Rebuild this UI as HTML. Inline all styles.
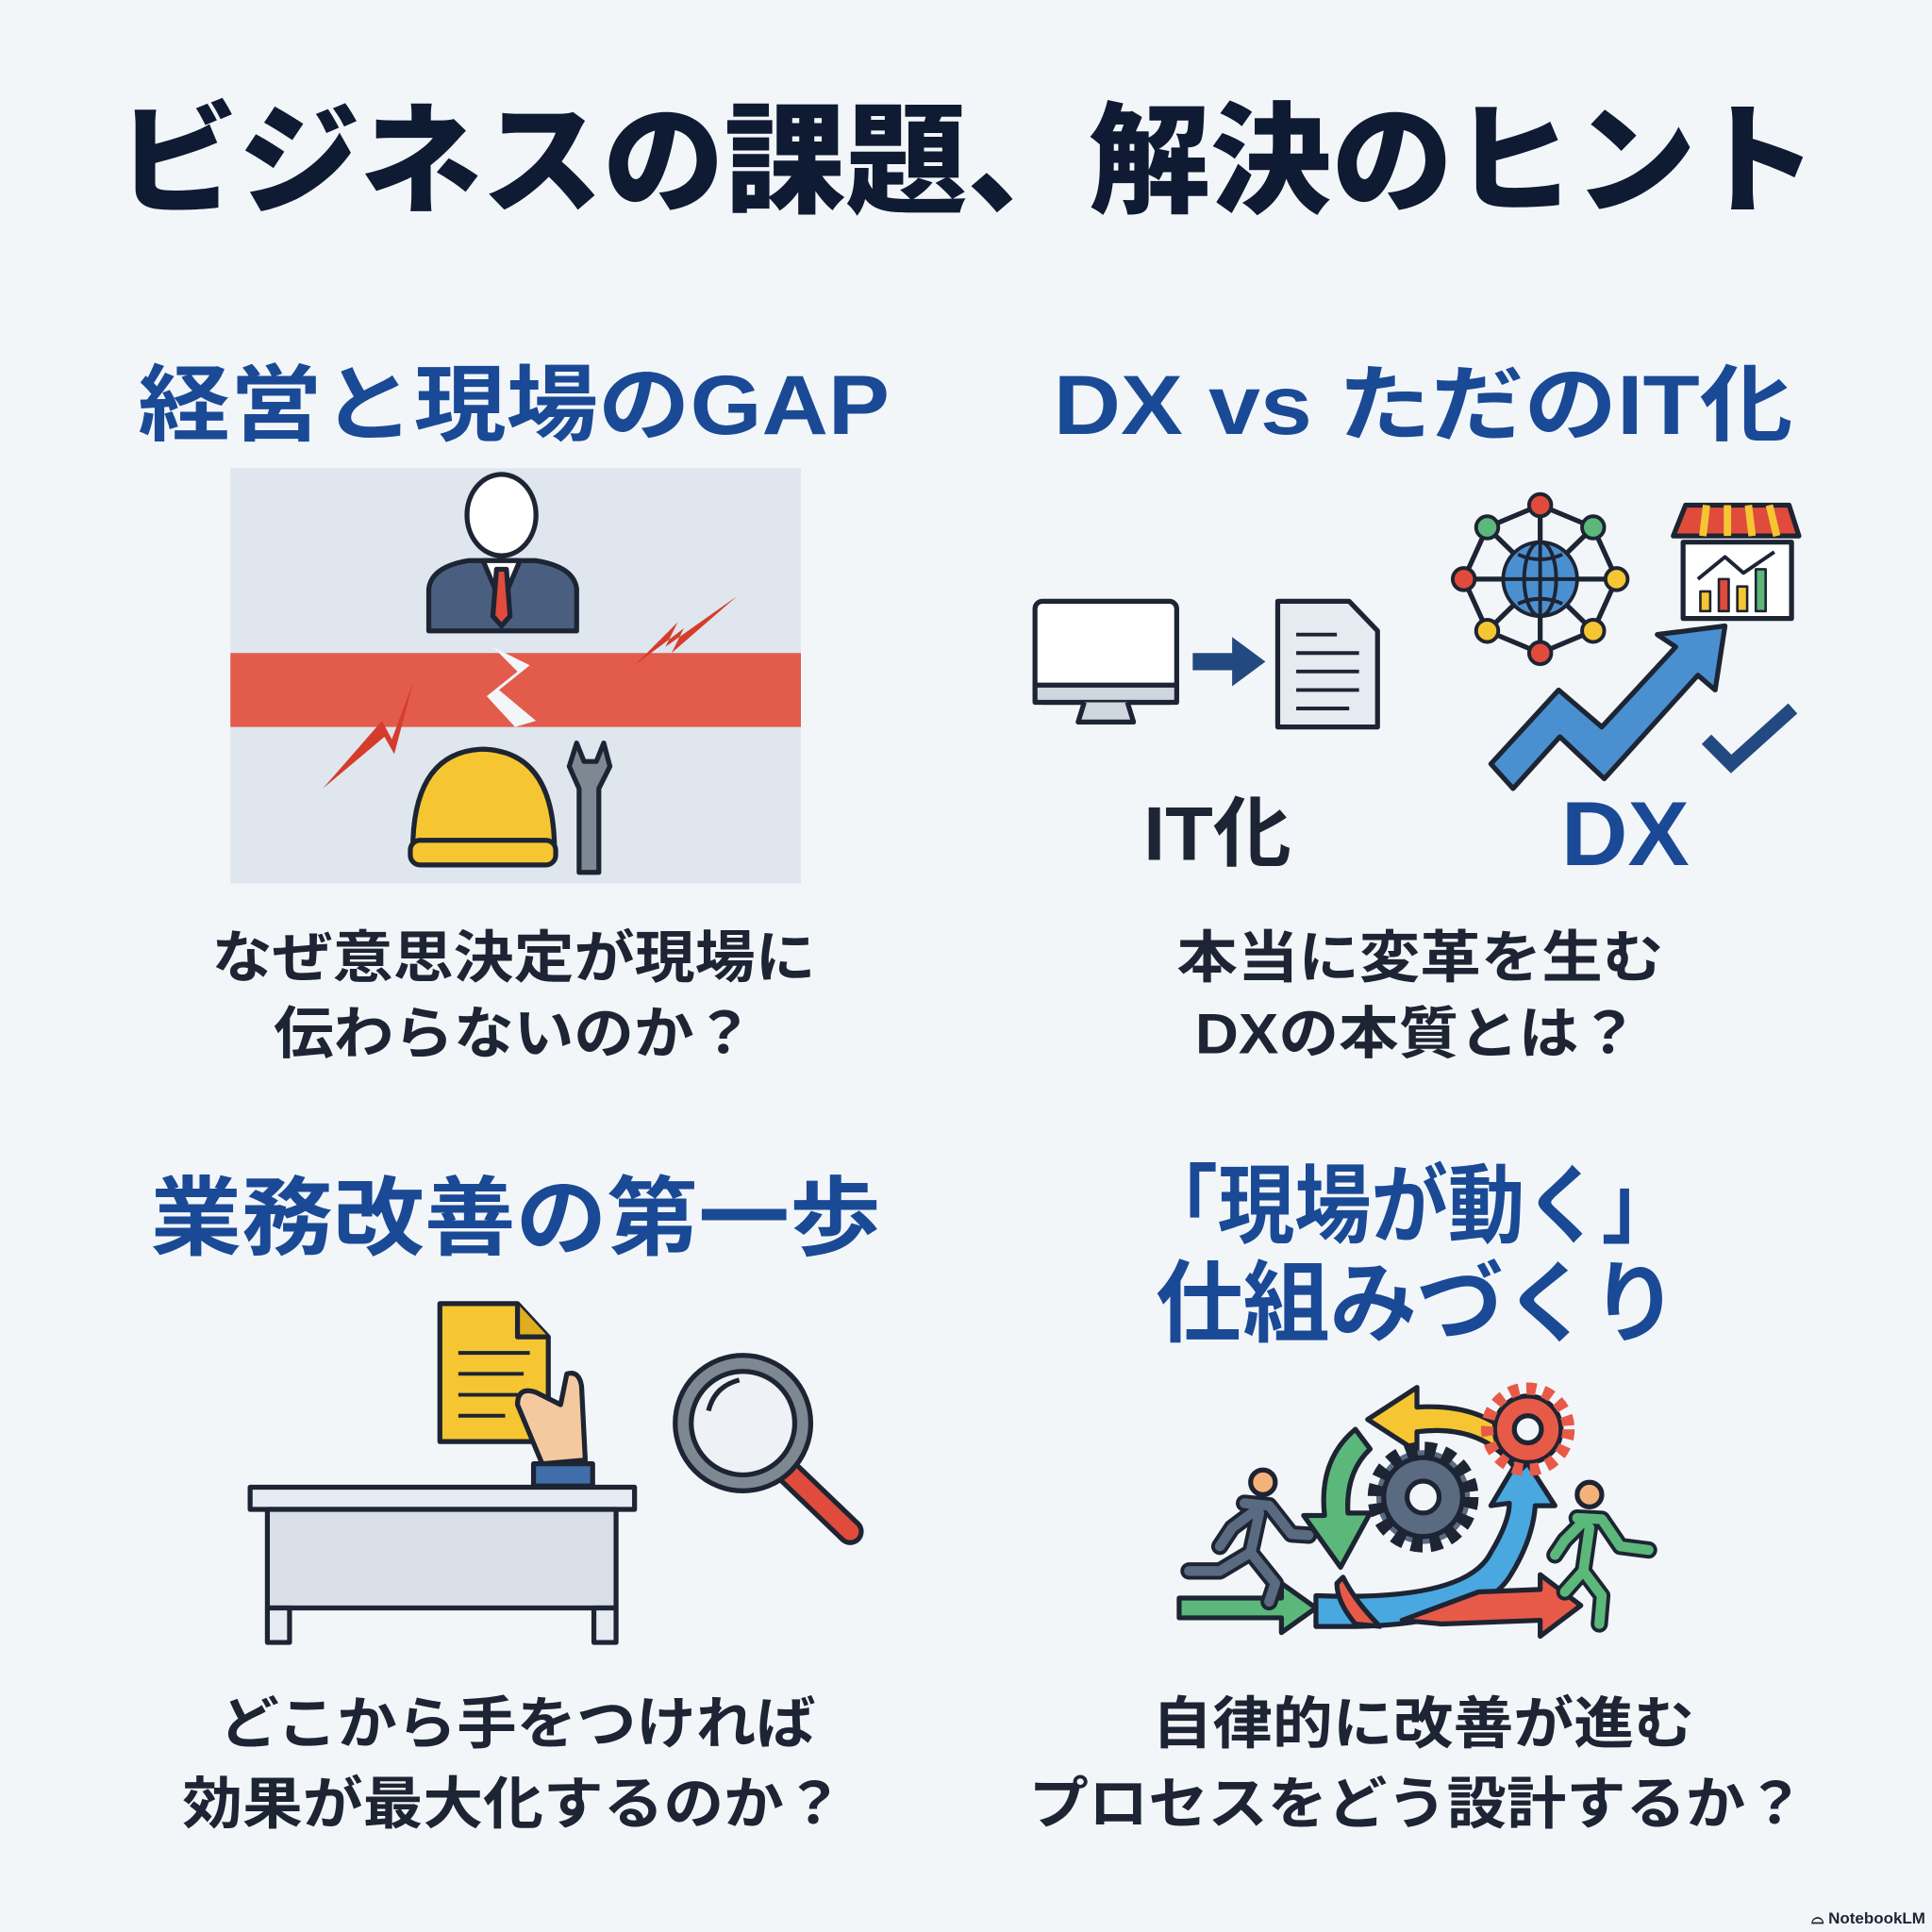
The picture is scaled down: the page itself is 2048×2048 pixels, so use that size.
<!DOCTYPE html>
<html><head><meta charset="utf-8"><style>
html,body{margin:0;padding:0;background:#f3f6f9;width:2048px;height:2048px;overflow:hidden}
svg{display:block}
text{font-family:"Liberation Sans","Noto Sans CJK JP",sans-serif;font-weight:700}
</style></head><body>
<svg width="2048" height="2048" viewBox="0 0 1568 1568" xmlns="http://www.w3.org/2000/svg">
<rect width="1568" height="1568" fill="#f3f6f9"/>
<!-- Title -->
<text x="95" y="165" font-size="98" fill="#0f1b33" textLength="1380" lengthAdjust="spacingAndGlyphs" style="font-weight:900">ビジネスの課題、解決のヒント</text>
<!-- Headings -->
<g fill="#1a4a96" style="font-weight:900">
<text x="112" y="352" font-size="68" textLength="610" lengthAdjust="spacingAndGlyphs">経営と現場のGAP</text>
<text x="855" y="352" font-size="68" textLength="600" lengthAdjust="spacingAndGlyphs">DX vs ただのIT化</text>
<text x="122" y="1013" font-size="70" textLength="593" lengthAdjust="spacingAndGlyphs">業務改善の第一歩</text>
<text x="926" y="1003" font-size="70" textLength="436" lengthAdjust="spacingAndGlyphs">「現場が動く」</text>
<text x="938" y="1083" font-size="72" textLength="424" lengthAdjust="spacingAndGlyphs">仕組みづくり</text>
</g>
<!-- Questions -->
<g fill="#1d2433" font-size="46">
<text x="172" y="793" textLength="490" lengthAdjust="spacingAndGlyphs">なぜ意思決定が現場に</text>
<text x="222" y="855" textLength="390" lengthAdjust="spacingAndGlyphs">伝わらないのか？</text>
<text x="955" y="793" textLength="395" lengthAdjust="spacingAndGlyphs">本当に変革を生む</text>
<text x="970" y="855" textLength="360" lengthAdjust="spacingAndGlyphs">DXの本質とは？</text>
<text x="178" y="1415" textLength="484" lengthAdjust="spacingAndGlyphs">どこから手をつければ</text>
<text x="148" y="1480" textLength="537" lengthAdjust="spacingAndGlyphs">効果が最大化するのか？</text>
<text x="935" y="1415" textLength="440" lengthAdjust="spacingAndGlyphs">自律的に改善が進む</text>
<text x="835" y="1480" textLength="630" lengthAdjust="spacingAndGlyphs">プロセスをどう設計するか？</text>
</g>

<!-- Panel 1 -->
<rect x="187" y="380" width="463" height="337" fill="#dfe6ee"/>
<rect x="187" y="530" width="463" height="60" fill="#e25b4b"/>
<g stroke="#1d2433" stroke-width="4" stroke-linejoin="round">
<path d="M348 512 L348 478 Q350 460 380 455 L435 455 Q466 460 468 478 L468 512 Z" fill="#4a5f80"/>
<path d="M392 455 L407 490 L422 455 Z" fill="#fff"/>
<path d="M403 462 L411 462 L414 500 L407 508 L400 500 Z" fill="#e04b3b"/>
<ellipse cx="407" cy="418" rx="28" ry="33" fill="#fff"/>
<path d="M335 690 Q335 610 392 608 Q450 610 450 690 Z" fill="#f5c631"/>
<rect x="333" y="682" width="118" height="20" rx="8" fill="#f5c631"/>
<path d="M468 603 L462 622 L470 640 L470 708 L486 708 L486 640 L495 622 L490 603 L484 618 L474 618 Z" fill="#7e8893"/>
</g>
<path d="M400 525 L430 540 L405 560 L435 585 L418 590 L395 565 L420 545 Z" fill="#f3f6f9"/>
<path d="M515 540 L550 505 L540 525 L598 484 L545 530 L555 510 Z" fill="#d63c2c"/>
<path d="M262 640 L310 585 L318 600 L335 555 L320 612 L312 598 Z" fill="#d63c2c"/>

<!-- Panel 2 -->
<g stroke="#1d2433" stroke-width="4" stroke-linejoin="round">
<rect x="840" y="488" width="115" height="82" rx="6" fill="#fff"/>
<rect x="840" y="556" width="115" height="14" fill="#cfd6de"/>
<path d="M880 570 L875 586 L920 586 L915 570" fill="#cfd6de"/>
<path d="M1037 488 L1095 488 L1118 512 L1118 590 L1037 590 Z" fill="#e6ebf1"/>
<g stroke-width="3"><line x1="1052" y1="515" x2="1085" y2="515"/><line x1="1052" y1="530" x2="1103" y2="530"/><line x1="1052" y1="545" x2="1103" y2="545"/><line x1="1052" y1="560" x2="1103" y2="560"/><line x1="1052" y1="575" x2="1095" y2="575"/></g>
</g>
<path d="M968 530 L1000 530 L1000 517 L1027 537 L1000 557 L1000 544 L968 544 Z" fill="#234a80"/>
<g stroke="#1d2433" stroke-width="3">
<g stroke-width="4" fill="none">
<polygon points="1250,410 1293,428 1312,470 1293,512 1250,530 1207,512 1188,470 1207,428"/>
<line x1="1250" y1="410" x2="1250" y2="530"/><line x1="1188" y1="470" x2="1312" y2="470"/>
<line x1="1207" y1="428" x2="1293" y2="512"/><line x1="1293" y1="428" x2="1207" y2="512"/>
</g>
<circle cx="1250" cy="470" r="30" fill="#4a90d0"/>
<path d="M1220 470 H1280 M1250 440 V500 M1232 450 Q1250 458 1268 450 M1232 490 Q1250 482 1268 490" fill="none"/>
<ellipse cx="1250" cy="470" rx="13" ry="30" fill="none"/>
<circle cx="1250" cy="410" r="9" fill="#e04b3b"/><circle cx="1293" cy="428" r="9" fill="#5cb87a"/>
<circle cx="1312" cy="470" r="9" fill="#f5c631"/><circle cx="1293" cy="512" r="9" fill="#f5c631"/>
<circle cx="1250" cy="530" r="9" fill="#e04b3b"/><circle cx="1207" cy="512" r="9" fill="#f5c631"/>
<circle cx="1188" cy="470" r="9" fill="#e04b3b"/><circle cx="1207" cy="428" r="9" fill="#5cb87a"/>
</g>
<g stroke="#1d2433" stroke-width="4" stroke-linejoin="round">
<rect x="1366" y="440" width="88" height="62" fill="#fff"/>
<path d="M1368 410 L1452 410 L1460 435 L1358 435 Z" fill="#e04b3b"/>
<path d="M1385 410 L1382 435 M1402 410 L1402 435 M1419 410 L1422 435 M1436 410 L1442 435" stroke="#f5c631" stroke-width="6"/>
<rect x="1380" y="480" width="8" height="16" fill="#f5c631" stroke-width="2"/>
<rect x="1395" y="470" width="8" height="26" fill="#e04b3b" stroke-width="2"/>
<rect x="1410" y="476" width="8" height="20" fill="#f5c631" stroke-width="2"/>
<rect x="1425" y="462" width="8" height="34" fill="#5cb87a" stroke-width="2"/>
<path d="M1378 470 L1400 452 L1415 465 L1440 448" fill="none" stroke-width="3"/>
</g>
<path d="M1210 620 L1265 560 L1300 590 L1360 525 L1345 515 L1400 508 L1392 560 L1378 548 L1302 632 L1266 598 L1228 640 Z" fill="#4a90d0" stroke="#1d2433" stroke-width="4" stroke-linejoin="round"/>
<path d="M1385 600 L1405 620 L1455 575" fill="none" stroke="#234a80" stroke-width="11"/>
<text x="928" y="698" font-size="62" fill="#1d2433" textLength="120" lengthAdjust="spacingAndGlyphs">IT化</text>
<text x="1267" y="702" font-size="74" fill="#1a4a96" textLength="104" lengthAdjust="spacingAndGlyphs" style="font-weight:900">DX</text>

<!-- Panel 3 -->
<g stroke="#1d2433" stroke-width="4" stroke-linejoin="round">
<path d="M357 1058 L420 1058 L445 1085 L445 1170 L357 1170 Z" fill="#f5c631"/>
<path d="M420 1058 L420 1085 L445 1085" fill="#e0ad20"/>
<g stroke-width="3"><line x1="372" y1="1098" x2="430" y2="1098"/><line x1="372" y1="1115" x2="425" y2="1115"/><line x1="372" y1="1132" x2="420" y2="1132"/><line x1="372" y1="1149" x2="410" y2="1149"/></g>
<path d="M420 1140 Q420 1125 435 1130 L455 1140 L460 1115 Q470 1112 472 1125 L475 1185 L440 1188 Z" fill="#f4c9a0"/>
<rect x="433" y="1188" width="48" height="18" fill="#3f6ea8"/>
<line x1="640" y1="1195" x2="690" y2="1243" stroke-width="22" stroke-linecap="round"/>
<line x1="640" y1="1195" x2="690" y2="1243" stroke="#e04b3b" stroke-width="14" stroke-linecap="round"/>
<circle cx="603" cy="1155" r="55" fill="#7e8893"/>
<circle cx="603" cy="1155" r="42" fill="#eef2f6"/>
<path d="M575 1145 Q580 1125 600 1120" fill="none" stroke-width="4"/>
<rect x="203" y="1207" width="312" height="18" fill="#e6ebf1"/>
<rect x="217" y="1225" width="283" height="80" fill="#d9dfe7"/>
<rect x="217" y="1305" width="18" height="28" fill="#e6ebf1"/>
<rect x="482" y="1305" width="18" height="28" fill="#e6ebf1"/>
</g>

<!-- Panel 4 -->
<g stroke="#1d2433" stroke-width="4" stroke-linejoin="round">
<path d="M957 1297 L1040 1297 L1040 1285 L1068 1305 L1040 1325 L1040 1313 L957 1313 Z" fill="#5cb87a"/>
<path d="M1068 1295 Q1190 1300 1210 1260 Q1225 1235 1225 1220 L1210 1222 L1235 1180 L1262 1222 L1246 1222 Q1244 1250 1225 1280 Q1200 1318 1100 1320 L1068 1320 Z" fill="#4aa8e0"/>
<path d="M1138 1315 L1200 1292 L1250 1290 L1250 1278 L1283 1303 L1250 1328 L1250 1315 L1170 1318 Z" fill="#e85a48"/>
<path d="M1090 1280 Q1100 1300 1120 1320 L1100 1318 Q1085 1300 1085 1285 Z" fill="#e85a48"/>
<path d="M1100 1160 Q1070 1185 1075 1230 L1058 1230 L1088 1272 L1112 1228 L1094 1228 Q1092 1195 1112 1176 Z" fill="#5cb87a"/>
<path d="M1232 1195 Q1205 1155 1150 1162 L1150 1178 L1110 1152 L1150 1126 L1150 1142 Q1215 1138 1242 1185 Z" fill="#f5c631"/>
<circle cx="1155" cy="1215" r="38" fill="#5a6a80" stroke-dasharray="9 6" stroke-width="14"/>
<circle cx="1155" cy="1215" r="32" fill="#5a6a80"/>
<circle cx="1155" cy="1215" r="13" fill="#f3f6f9"/>
<circle cx="1240" cy="1160" r="27" fill="#e85a48"/>
<circle cx="1240" cy="1160" r="33" fill="none" stroke="#e85a48" stroke-width="10" stroke-dasharray="8 6"/>
<circle cx="1240" cy="1160" r="11" fill="#f3f6f9"/>
<circle cx="1025" cy="1203" r="10" fill="#f4b27a"/>
<path d="M1010 1220 L1030 1222 L1048 1245 L1062 1246 M1020 1225 L1000 1240 L990 1255 M1022 1228 L1015 1260 L990 1275 L965 1275 M1015 1260 L1035 1285 L1030 1300" fill="none" stroke="#1d2433" stroke-width="14" stroke-linecap="round"/>
<path d="M1010 1220 L1030 1222 L1048 1245 L1062 1246 M1020 1225 L1000 1240 L990 1255 M1022 1228 L1015 1260 L990 1275 L965 1275 M1015 1260 L1035 1285 L1030 1300" fill="none" stroke="#5a6a80" stroke-width="8" stroke-linecap="round"/>
<circle cx="1290" cy="1213" r="10" fill="#f4b27a"/>
<path d="M1280 1232 L1300 1233 L1315 1255 L1338 1258 M1285 1235 L1270 1250 L1262 1262 M1290 1240 L1285 1275 L1270 1292 M1285 1275 L1300 1295 L1298 1318" fill="none" stroke="#1d2433" stroke-width="14" stroke-linecap="round"/>
<path d="M1280 1232 L1300 1233 L1315 1255 L1338 1258 M1285 1235 L1270 1250 L1262 1262 M1290 1240 L1285 1275 L1270 1292 M1285 1275 L1300 1295 L1298 1318" fill="none" stroke="#5cb87a" stroke-width="8" stroke-linecap="round"/>
</g>

<text x="1470" y="1561" font-size="13" fill="#1d2433">⌓ NotebookLM</text>
</svg>
</body></html>
